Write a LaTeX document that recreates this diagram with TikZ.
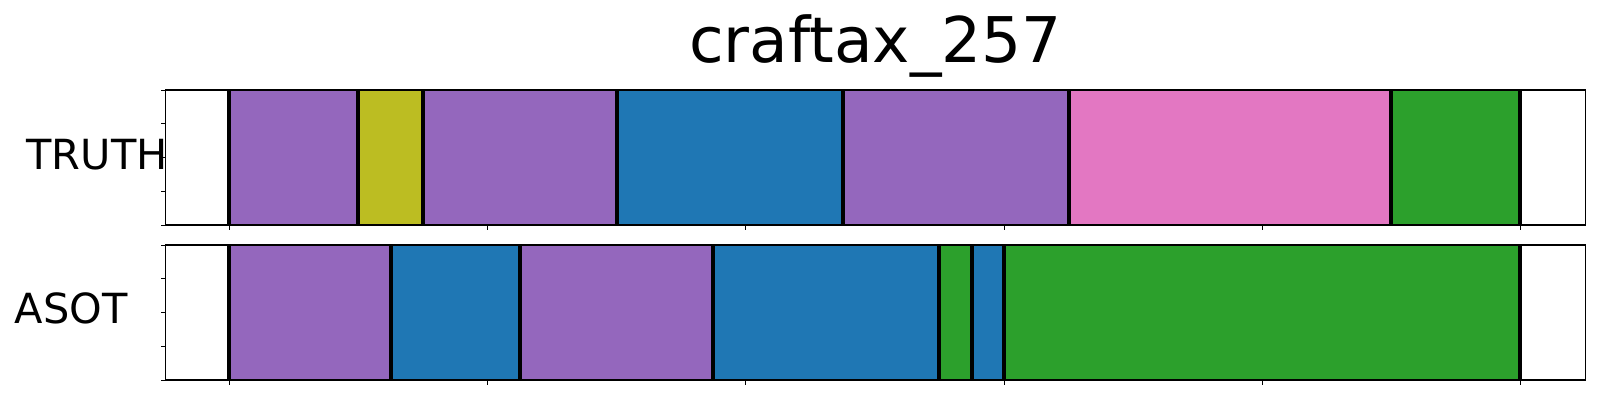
\documentclass[tikz,border=0pt]{standalone}
\usepackage{fontspec}
\setmainfont{DejaVu Sans}
\definecolor{tpurple}{HTML}{9467BD}
\definecolor{tolive}{HTML}{BCBD22}
\definecolor{tblue}{HTML}{1F77B4}
\definecolor{tpink}{HTML}{E377C2}
\definecolor{tgreen}{HTML}{2CA02C}
\tikzset{
  frame/.style={draw=black, line width=1.6pt},
  bound/.style={draw=black, line width=3.8pt},
  tickmark/.style={draw=black, line width=1pt},
  titletext/.style={font=\fontsize{63}{63}\selectfont, anchor=base, inner sep=0pt},
  labeltext/.style={font=\fontsize{41.5}{41.5}\selectfont, anchor=base, inner sep=0pt}
}
\begin{document}
\begin{tikzpicture}[x=1pt,y=-1pt]
\useasboundingbox (0,0) rectangle (1600,400);
% upper axis segments
\def\ta{90}\def\tb{225}
\fill[tpurple] (229,\ta) rectangle (358,\tb);
\fill[tolive] (358,\ta) rectangle (422.7,\tb);
\fill[tpurple] (422.7,\ta) rectangle (617,\tb);
\fill[tblue] (617,\ta) rectangle (843,\tb);
\fill[tpurple] (843,\ta) rectangle (1069,\tb);
\fill[tpink] (1069,\ta) rectangle (1391,\tb);
\fill[tgreen] (1391,\ta) rectangle (1520,\tb);
\foreach \x in {229,358,422.7,617,843,1069,1391,1520}
  \draw[bound] (\x,\ta) -- (\x,\tb);
% lower axis segments
\def\ba{245}\def\bb{380}
\fill[tpurple] (229,\ba) rectangle (390.7,\bb);
\fill[tblue] (390.7,\ba) rectangle (519.7,\bb);
\fill[tpurple] (519.7,\ba) rectangle (712.7,\bb);
\fill[tblue] (712.7,\ba) rectangle (938.7,\bb);
\fill[tgreen] (938.7,\ba) rectangle (971.7,\bb);
\fill[tblue] (971.7,\ba) rectangle (1003.7,\bb);
\fill[tgreen] (1003.7,\ba) rectangle (1520,\bb);
\foreach \x in {229,390.7,519.7,712.7,938.7,971.7,1003.7,1520}
  \draw[bound] (\x,\ba) -- (\x,\bb);
% frames
\draw[frame] (165.5,\ta) rectangle (1585.5,\tb);
\draw[frame] (165.5,\ba) rectangle (1585.5,\bb);
% ticks
\foreach \x in {229,487.3,745.7,1004,1262.3,1520.6} {
  \draw[tickmark] (\x,\tb) -- (\x,\tb+5);
  \draw[tickmark] (\x,\bb) -- (\x,\bb+5);
}
\foreach \f in {0,0.25,0.5,0.75,1} {
  \draw[tickmark] (165.5,{\ta+\f*135}) -- (160.5,{\ta+\f*135});
  \draw[tickmark] (165.5,{\ba+\f*135}) -- (160.5,{\ba+\f*135});
}
% texts
\node[titletext] (title) at (875.5,62.7) {craftax\_257};
\node[labeltext] (truth) at (97,169.3) {TRUTH};
\node[labeltext] (asot) at (71.2,323.3) {ASOT};
\end{tikzpicture}
\end{document}
